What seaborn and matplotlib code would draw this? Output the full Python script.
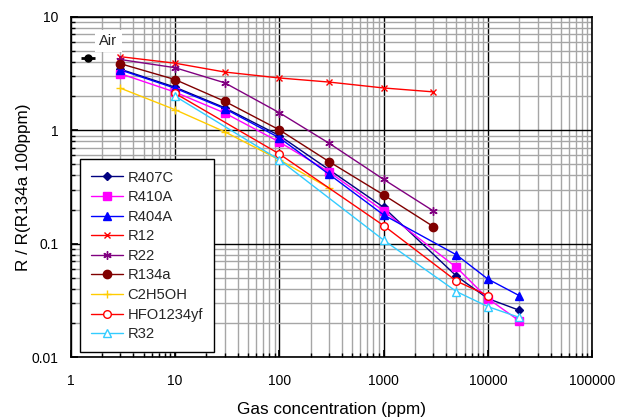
import matplotlib
matplotlib.use("Agg")
import matplotlib.pyplot as plt
import matplotlib.ticker as mticker
import seaborn as sns

sns.set_theme(style="white")
plt.rcParams['font.family'] = ['Liberation Sans', 'DejaVu Sans']

# Data (gas concentration in ppm, relative resistance)
conc_blend = [3, 10, 30, 100, 300, 1000, 5000, 10000, 20000]
conc_r12 = [3, 10, 30, 100, 300, 1000, 3000]
conc_etoh = [3, 10, 30, 100, 300]
conc_hfo = [10, 100, 1000, 5000, 10000]
conc_r32 = [10, 100, 1000, 5000, 10000, 20000]

r407c = [3.45, 2.40, 1.58, 0.90, 0.45, 0.21, 0.052, 0.033, 0.026]
r410a = [3.15, 2.17, 1.42, 0.79, 0.43, 0.195, 0.062, 0.033, 0.021]
r404a = [3.40, 2.35, 1.55, 0.86, 0.41, 0.18, 0.080, 0.049, 0.035]
r12 = [4.45, 3.90, 3.26, 2.89, 2.66, 2.36, 2.18]
r22 = [4.20, 3.56, 2.62, 1.43, 0.77, 0.37, 0.195]
r134a = [3.86, 2.80, 1.80, 1.01, 0.53, 0.27, 0.142]
c2h5oh = [2.35, 1.52, 0.97, 0.55, 0.31]
hfo1234yf = [2.12, 0.62, 0.145, 0.047, 0.035]
r32 = [2.00, 0.55, 0.108, 0.038, 0.028, 0.0225]

air_x = 1.46
air_y = 4.35
air_xerr = [[0.21], [0.25]]

names = ["R407C", "R410A", "R404A", "R12", "R22", "R134a", "C2H5OH", "HFO1234yf", "R32"]
xs = [conc_blend, conc_blend, conc_blend, conc_r12, conc_r12, conc_r12, conc_etoh, conc_hfo, conc_r32]
ys = [r407c, r410a, r404a, r12, r22, r134a, c2h5oh, hfo1234yf, r32]
colors = ["#000080", "#FF00FF", "#0000FF", "#FF0000", "#800080", "#800000", "#FFCC00", "#FF0000", "#33CCFF"]
markers = ["D", "s", "^", "x", (6, 2, 0), "o", "+", "o", "^"]
faces = ["#000080", "#FF00FF", "#0000FF", "#FF0000", "#800080", "#800000", "#FFCC00", "white", "white"]
sizes = [4.5, 5.5, 6, 5, 6, 6, 6, 5.5, 6]

fig = plt.figure(figsize=(6.34, 4.19), dpi=100)
ax = fig.add_axes([0.1115, 0.147, 0.8225, 0.813])

for name, x, y, c, m, fc, ms in zip(names, xs, ys, colors, markers, faces, sizes):
    sns.lineplot(x=x, y=y, ax=ax, color=c, marker=m, markersize=ms,
                 markerfacecolor=fc, markeredgecolor=c, markeredgewidth=1.0,
                 linewidth=1.0, label=name, zorder=3)

# Air reference point
ax.errorbar([air_x], [air_y], xerr=air_xerr, fmt="o", color="black",
            markersize=5, elinewidth=2, capsize=0, zorder=4)
ax.text(2.3, 6.1, "Air", fontsize=10.5, ha="center", va="center",
        bbox=dict(facecolor="white", edgecolor="none", pad=3), zorder=4)

ax.set_xscale("log")
ax.set_yscale("log")
ax.set_xlim(1, 100000)
ax.set_ylim(0.01, 10)

ax.xaxis.set_major_locator(mticker.LogLocator(base=10, numticks=10))
ax.xaxis.set_minor_locator(mticker.LogLocator(base=10, subs=range(2, 10), numticks=20))
ax.yaxis.set_major_locator(mticker.LogLocator(base=10, numticks=10))
ax.yaxis.set_minor_locator(mticker.LogLocator(base=10, subs=range(2, 10), numticks=20))
ax.xaxis.set_major_formatter(mticker.FuncFormatter(lambda v, p: f"{v:g}" if v < 1e5 else "100000"))
ax.yaxis.set_major_formatter(mticker.FuncFormatter(lambda v, p: f"{v:g}"))
ax.xaxis.set_minor_formatter(mticker.NullFormatter())
ax.yaxis.set_minor_formatter(mticker.NullFormatter())

ax.grid(which="minor", color="#A6A6A6", linewidth=1.0, zorder=0)
ax.grid(which="major", color="black", linewidth=1.0, zorder=1)
ax.set_axisbelow(True)

ax.tick_params(axis="x", which="both", direction="in", pad=12, labelsize=10, colors="black")
ax.tick_params(axis="y", which="both", direction="in", pad=9, labelsize=10, colors="black")
ax.tick_params(which="major", length=5, bottom=True, left=True)
ax.tick_params(which="minor", length=3, bottom=True, left=True)
for s in ax.spines.values():
    s.set_color("black")
    s.set_linewidth(1.2)

ax.set_xlabel("Gas concentration (ppm)", fontsize=12.3, labelpad=10, color="black")
ax.set_ylabel("R / R(R134a 100ppm)", fontsize=12.3, labelpad=0, color="black")

leg = ax.legend(loc="lower left", bbox_to_anchor=(0.017, 0.015), fontsize=10.6,
                frameon=True, fancybox=False, edgecolor="black", framealpha=1,
                borderpad=0.75, labelspacing=0.38, handlelength=2.2,
                handletextpad=0.3, borderaxespad=0)
leg.get_frame().set_linewidth(1.0)

fig.savefig("out.png", dpi=100)
